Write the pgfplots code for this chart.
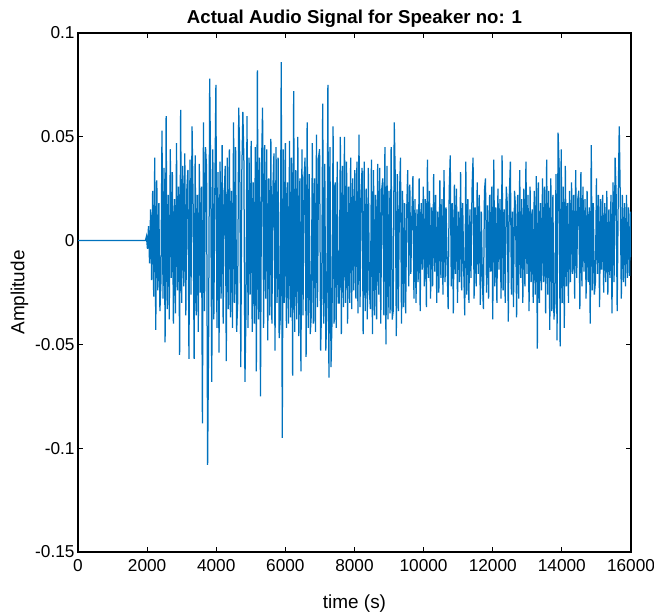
\documentclass[border=0pt]{standalone}
\usepackage{fontspec}
\setmainfont{Liberation Sans}
\usepackage{pgfplots}
\pgfplotsset{compat=1.18}
\definecolor{mblue}{RGB}{0,114,189}
\begin{document}
\begin{tikzpicture}
\path[use as bounding box] (-78bp,-64bp) rectangle (576bp,552bp);
\begin{axis}[
  at={(0,0)}, anchor=south west,
  scale only axis, width=553bp, height=519bp,
  xmin=0, xmax=16000, ymin=-150, ymax=100,
  xtick={0,2000,4000,6000,8000,10000,12000,14000,16000},
  xticklabels={0,2000,4000,6000,8000,10000,12000,14000,16000},
  ytick={-150,-100,-50,0,50,100},
  yticklabels={-0.15,-0.1,-0.05,0,0.05,0.1},
  scaled ticks=false,
  tick align=inside, tick pos=both, major tick length=5bp,
  axis line style={line width=1.1bp, black},
  every tick/.style={black, line width=1.1bp},
  tick label style={font=\fontsize{17.3}{20}\selectfont, black},
  xticklabel style={yshift=-4bp},
  title={Actual Audio Signal for Speaker no: 1},
  title style={font=\bfseries\fontsize{18.7}{22}\selectfont, yshift=-4bp},
  xlabel={time (s)},
  xlabel style={font=\fontsize{19}{22}\selectfont, yshift=-16bp},
  ylabel={Amplitude},
  ylabel style={font=\fontsize{19}{22}\selectfont},
]
\addplot[mblue, line width=1.25bp] coordinates {
(1,0) (1950,0) (1980,2) (2010,-4) (2040,7) (2070,-11) (2100,15) (2130,-19) (2160,24) (2190,-27) (2220,40)
(2250,-43) (2280,29) (2310,-24) (2340,18) (2370,-34) (2400,-20) (2430,53) (2460,-28) (2490,35) (2520,-49)
(2550,60) (2580,-33) (2610,22) (2640,-38) (2670,44) (2700,-18) (2730,33) (2760,-40) (2790,20) (2820,-35)
(2850,47) (2880,-24) (2910,26) (2940,-55) (2970,63) (3000,-30) (3030,36) (3060,-22) (3090,42) (3120,-36)
(3150,25) (3180,34) (3210,-57) (3240,39) (3270,-26) (3300,55) (3330,20) (3360,-57) (3390,41) (3420,-36)
(3450,22) (3480,-44) (3510,37) (3540,-25) (3570,26) (3600,-88) (3630,57) (3660,-34) (3690,45) (3720,35)
(3750,-108) (3780,-45) (3810,78) (3840,30) (3870,-68) (3900,44) (3930,-38) (3960,25) (3990,75) (4020,-42)
(4050,33) (4080,-54) (4110,38) (4140,-28) (4170,46) (4200,-40) (4230,22) (4260,36) (4290,-58) (4320,40)
(4350,-33) (4380,44) (4410,-37) (4440,24) (4470,-42) (4500,57) (4530,-30) (4560,45) (4590,-44) (4620,-30)
(4650,64) (4680,40) (4710,-61) (4740,33) (4770,62) (4800,38) (4830,-68) (4860,-35) (4890,60) (4920,-42)
(4950,40) (4980,-26) (5010,48) (5040,-44) (5070,28) (5100,-40) (5130,45) (5160,-63) (5190,82) (5220,-38)
(5250,40) (5280,-75) (5310,35) (5340,64) (5370,-42) (5400,46) (5430,-28) (5460,44) (5490,-48) (5520,30)
(5550,-36) (5580,49) (5610,-40) (5640,26) (5670,42) (5700,-53) (5730,45) (5760,-30) (5790,40) (5820,-47)
(5850,-38) (5880,86) (5910,-95) (5940,44) (5970,-30) (6000,47) (6030,-42) (6060,28) (6090,-40) (6120,48)
(6150,-37) (6180,40) (6210,-65) (6240,72) (6270,-44) (6300,34) (6330,-38) (6360,50) (6390,-46) (6420,30)
(6450,-63) (6480,44) (6510,-36) (6540,30) (6570,40) (6600,-56) (6630,57) (6660,-42) (6690,32) (6720,-45)
(6750,-36) (6780,47) (6810,-40) (6840,30) (6870,-44) (6900,51) (6930,-32) (6960,40) (6990,44) (7020,-53)
(7050,-30) (7080,66) (7110,-40) (7140,37) (7170,-53) (7200,-35) (7230,75) (7260,-66) (7290,45) (7320,-61)
(7350,-38) (7380,55) (7410,-40) (7440,28) (7470,-42) (7500,38) (7530,-30) (7560,-30) (7590,50) (7620,-45)
(7650,36) (7680,-32) (7710,50) (7740,-30) (7770,38) (7800,-40) (7830,26) (7860,-30) (7890,40) (7920,-33)
(7950,30) (7980,-24) (8010,34) (8040,-28) (8070,38) (8100,-35) (8130,51) (8160,-32) (8190,24) (8220,35)
(8250,-45) (8280,38) (8310,-34) (8340,25) (8370,-38) (8400,35) (8430,-24) (8460,-33) (8490,39) (8520,-45)
(8550,34) (8580,-36) (8610,22) (8640,-38) (8670,37) (8700,-26) (8730,35) (8760,-40) (8790,25) (8820,30)
(8850,-36) (8880,45) (8910,-50) (8940,36) (8970,-38) (9000,24) (9030,-35) (9060,45) (9090,-38) (9120,-34)
(9150,57) (9180,30) (9210,-46) (9240,32) (9270,-34) (9300,20) (9330,40) (9360,-40) (9390,24) (9420,-32)
(9450,18) (9480,-35) (9510,14) (9540,34) (9570,-22) (9600,27) (9630,-16) (9660,12) (9690,31) (9720,-28)
(9750,20) (9780,-30) (9810,15) (9840,-20) (9870,30) (9900,-34) (9930,18) (9960,-14) (9990,26) (10020,-22)
(10050,20) (10080,-32) (10110,39) (10140,-18) (10170,24) (10200,-28) (10230,16) (10260,-22) (10290,32) (10320,-15)
(10350,22) (10380,-30) (10410,14) (10440,-25) (10470,29) (10500,-18) (10530,20) (10560,-26) (10590,34) (10620,-20)
(10650,16) (10680,-12) (10710,-33) (10740,24) (10770,41) (10800,-22) (10830,18) (10860,-35) (10890,27) (10920,-16)
(10950,25) (10980,-30) (11010,14) (11040,-20) (11070,33) (11100,-24) (11130,18) (11160,-14) (11190,-36) (11220,38)
(11250,-26) (11280,20) (11310,-30) (11340,15) (11370,-18) (11400,24) (11430,40) (11460,-28) (11490,16) (11520,-22)
(11550,28) (11580,-16) (11610,22) (11640,-31) (11670,14) (11700,-20) (11730,-33) (11760,24) (11790,30) (11820,-25)
(11850,17) (11880,-28) (11910,22) (11940,-15) (11970,26) (12000,-38) (12030,39) (12060,-22) (12090,16) (12120,-30)
(12150,25) (12180,-14) (12210,20) (12240,-28) (12270,41) (12300,-24) (12330,15) (12360,-30) (12390,26) (12420,18)
(12450,-39) (12480,22) (12510,38) (12540,-26) (12570,14) (12600,-32) (12630,24) (12660,16) (12690,-37) (12720,22)
(12750,-28) (12780,34) (12810,-18) (12840,20) (12870,-30) (12900,25) (12930,-22) (12960,38) (12990,-16) (13020,22)
(13050,-34) (13080,26) (13110,-20) (13140,15) (13170,-30) (13200,24) (13230,-26) (13260,31) (13290,-52) (13320,28)
(13350,-30) (13380,18) (13410,-24) (13440,30) (13470,-20) (13500,26) (13530,-35) (13560,39) (13590,-26) (13620,24)
(13650,-43) (13680,30) (13710,-34) (13740,22) (13770,-38) (13800,-30) (13830,32) (13860,-48) (13890,52) (13920,36)
(13950,-51) (13980,44) (14010,-30) (14040,26) (14070,-42) (14100,36) (14130,-22) (14160,18) (14190,-30) (14220,24)
(14250,-20) (14280,28) (14310,-16) (14340,22) (14370,-28) (14400,34) (14430,-18) (14460,20) (14490,24) (14520,-33)
(14550,33) (14580,-22) (14610,26) (14640,-15) (14670,20) (14700,-28) (14730,24) (14760,-20) (14790,16) (14820,-40)
(14850,46) (14880,-24) (14910,18) (14940,-26) (14970,-20) (15000,30) (15030,-16) (15060,22) (15090,-32) (15120,20)
(15150,-14) (15180,22) (15210,-25) (15240,18) (15270,-20) (15300,24) (15330,-26) (15360,15) (15390,-18) (15420,22)
(15450,-35) (15480,28) (15510,-20) (15540,40) (15570,22) (15600,-34) (15630,20) (15660,55) (15690,20) (15720,-28)
(15750,22) (15780,-20) (15810,18) (15840,-22) (15870,22) (15900,-18) (15930,16) (15960,-17) (15990,14) (16000,-8)
};
\end{axis}
\end{tikzpicture}
\end{document}
